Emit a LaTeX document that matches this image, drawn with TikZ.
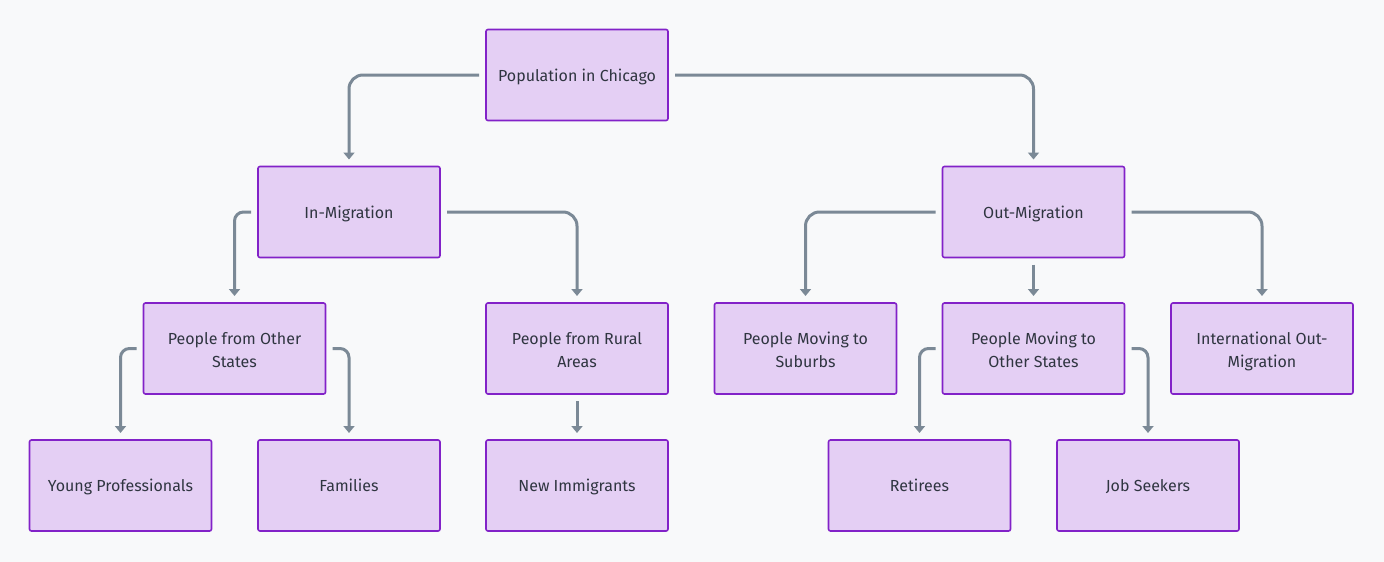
\documentclass[tikz,border=0pt]{standalone}
\usepackage{fontspec}
\setmainfont{Fira Sans}
\usetikzlibrary{arrows.meta,positioning}

\definecolor{boxfill}{HTML}{E4CFF4}
\definecolor{boxline}{HTML}{8222C8}
\definecolor{linkgray}{HTML}{7B8996}
\definecolor{bggray}{HTML}{F8F9FA}
\definecolor{txtgray}{HTML}{2F3540}

\begin{document}
\begin{tikzpicture}[
            x=1pt, y=-1pt,
            box/.style={draw=boxline, fill=boxfill, line width=1.6pt,
                rounded corners=2pt, minimum width=182pt, minimum height=91pt,
                align=center, text=txtgray, outer sep=7pt,
                font=\fontsize{16}{23}\selectfont},
            oneline/.style={box, text height=13pt, text depth=1pt},
            twoline/.style={box, text height=37pt, text depth=0pt},
            link/.style={draw=linkgray, line width=3pt, rounded corners=14pt,
                -{Triangle[width=11pt,length=7pt]}}]

        \fill[bggray] (0,0) rectangle (1384,562);
        \useasboundingbox (0,0) rectangle (1384,562);

        % levels
        \node[oneline] (pop) at (577,75) {Population in Chicago};

        \node[oneline] (inmig) at (349,212) {In-Migration};
        \node[oneline] (outmig) at (1033.5,212) {Out-Migration};

        \node[twoline] (states) at (234.5,348.5) {People from Other\\States};
        \node[twoline] (rural) at (577,348.5) {People from Rural\\Areas};
        \node[twoline] (suburbs) at (805.5,348.5) {People Moving to\\Suburbs};
        \node[twoline] (movers) at (1033.5,348.5) {People Moving to\\Other States};
        \node[twoline] (intl) at (1262,348.5) {International Out-\\Migration};

        \node[oneline] (young) at (120.5,485.5) {Young Professionals};
        \node[oneline] (families) at (349,485.5) {Families};
        \node[oneline] (newimm) at (577,485.5) {New Immigrants};
        \node[oneline] (retirees) at (919.5,485.5) {Retirees};
        \node[oneline] (jobs) at (1148,485.5) {Job Seekers};

        % connectors
        \draw[link] (pop.west) -| (inmig.north);
        \draw[link] (pop.east) -| (outmig.north);

        \draw[link, rounded corners=9pt] (inmig.west) -| (states.north);
        \draw[link] (inmig.east) -| (rural.north);
        \draw[link] (outmig.west) -| (suburbs.north);
        \draw[link] (outmig.south) -- (movers.north);
        \draw[link] (outmig.east) -| (intl.north);

        \draw[link, rounded corners=9pt] (states.west) -| (young.north);
        \draw[link, rounded corners=9pt] (states.east) -| (families.north);
        \draw[link] (rural.south) -- (newimm.north);
        \draw[link, rounded corners=9pt] (movers.west) -| (retirees.north);
        \draw[link, rounded corners=9pt] (movers.east) -| (jobs.north);
    \end{tikzpicture}
\end{document}
